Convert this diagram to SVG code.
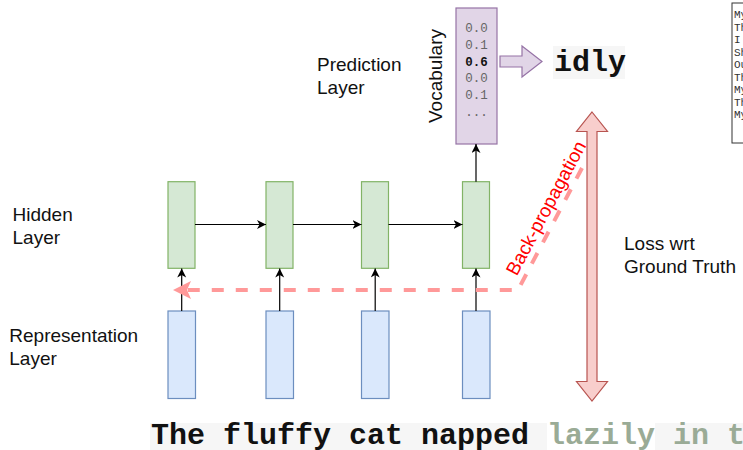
<svg xmlns="http://www.w3.org/2000/svg" width="743" height="450" viewBox="0 0 743 450">
  <style>
    .label { font-family: "Liberation Sans", Arial, sans-serif; font-size: 19px; fill: #111; }
    .mono { font-family: "Liberation Mono", "Courier New", monospace; }
    .hidden { fill: #d5e8d4; stroke: #82b366; stroke-width: 1.2; }
    .rep { fill: #dae8fc; stroke: #6c8ebf; stroke-width: 1.2; }
    .edge { fill: none; stroke: #000; stroke-width: 1.2; }
    .vocab-val { font-size: 12.5px; fill: #666; text-anchor: middle; }
  </style>
  <defs>
    <marker id="arrow" markerUnits="userSpaceOnUse" markerWidth="10" markerHeight="10" refX="9" refY="4.5" orient="auto">
      <path d="M0,0 L9,4.5 L0,9 L2.5,4.5 z" fill="#000"/>
    </marker>
    <marker id="arrow-back" markerUnits="userSpaceOnUse" markerWidth="20" markerHeight="20" refX="4" refY="9" orient="auto">
      <path d="M0,0 L18,9 L0,18 L4,9 z" fill="#ff9999"/>
    </marker>
  </defs>

  <!-- side panel of sentences, cut at the right edge -->
  <g id="sentence-list">
    <rect x="732" y="3" width="40" height="140" fill="#fff" stroke="#333" stroke-width="1"/>
    <g class="mono" font-size="11" fill="#333">
      <text x="734" y="18">My</text>
      <text x="734" y="30.5">Th</text>
      <text x="734" y="43">I</text>
      <text x="734" y="55.5">Sh</text>
      <text x="734" y="68">Ou</text>
      <text x="734" y="80.5">Th</text>
      <text x="734" y="93">My</text>
      <text x="734" y="105.5">Th</text>
      <text x="734" y="118">My</text>
    </g>
  </g>

  <!-- layer captions -->
  <g id="caption-prediction">
    <text class="label" x="317" y="71">Prediction</text>
    <text class="label" x="317" y="94">Layer</text>
  </g>
  <g id="caption-hidden">
    <text class="label" x="12.5" y="220.7">Hidden</text>
    <text class="label" x="12.5" y="243.7">Layer</text>
  </g>
  <g id="caption-representation">
    <text class="label" x="9.3" y="341.7">Representation</text>
    <text class="label" x="9.3" y="365">Layer</text>
  </g>
  <g id="caption-loss">
    <text class="label" x="624" y="250">Loss wrt</text>
    <text class="label" x="624" y="273">Ground Truth</text>
  </g>

  <!-- vocabulary distribution -->
  <g id="vocabulary">
    <rect x="456" y="8" width="41" height="136" fill="#e1d5e7" stroke="#9673a6" stroke-width="1.2"/>
    <text class="label" transform="translate(442,76) rotate(-90)" text-anchor="middle">Vocabulary</text>
    <g class="mono">
      <text class="vocab-val" x="476.5" y="32.3">0.0</text>
      <text class="vocab-val" x="476.5" y="49">0.1</text>
      <text class="vocab-val" x="476.5" y="65.7" font-weight="bold" style="fill:#111">0.6</text>
      <text class="vocab-val" x="476.5" y="82.3">0.0</text>
      <text class="vocab-val" x="476.5" y="99">0.1</text>
      <text class="vocab-val" x="476.5" y="115.7">...</text>
    </g>
  </g>

  <!-- chosen word -->
  <g id="prediction-arrow">
    <polygon points="500,56 522,56 522,46 542,61.5 522,77 522,67 500,67" fill="#e1d5e7" stroke="#9673a6" stroke-width="1.2"/>
  </g>
  <g id="predicted-word">
    <rect x="553" y="46" width="72" height="33" fill="#f6f6f6"/>
    <text class="mono" x="554" y="71" font-size="30" font-weight="bold" fill="#111">idly</text>
  </g>

  <!-- hidden layer cells -->
  <g id="hidden-1"><rect class="hidden" x="168" y="181.7" width="27" height="86.6"/></g>
  <g id="hidden-2"><rect class="hidden" x="266" y="181.7" width="27" height="86.6"/></g>
  <g id="hidden-3"><rect class="hidden" x="361.5" y="181.7" width="27" height="86.6"/></g>
  <g id="hidden-4"><rect class="hidden" x="462.5" y="181.7" width="27" height="86.6"/></g>

  <!-- representation layer cells -->
  <g id="rep-1"><rect class="rep" x="168" y="311" width="27.5" height="87.5"/></g>
  <g id="rep-2"><rect class="rep" x="266" y="311" width="27.5" height="87.5"/></g>
  <g id="rep-3"><rect class="rep" x="361.5" y="311" width="27.5" height="87.5"/></g>
  <g id="rep-4"><rect class="rep" x="462.5" y="311" width="27.5" height="87.5"/></g>

  <!-- loss arrow -->
  <g id="loss-arrow">
    <polygon points="592,112 607.5,131.5 597,131.5 597,381.5 607.5,381.5 592,401 576.5,381.5 587,381.5 587,131.5 576.5,131.5" fill="#f8cecc" stroke="#b85450" stroke-width="1.2"/>
  </g>

  <!-- connectors -->
  <g id="connectors">
    <path class="edge" d="M195,224.5 H266" marker-end="url(#arrow)"/>
    <path class="edge" d="M293,224.5 H361.5" marker-end="url(#arrow)"/>
    <path class="edge" d="M388.5,224.5 H462.5" marker-end="url(#arrow)"/>
    <path class="edge" d="M181.7,311 V268.5" marker-end="url(#arrow)"/>
    <path class="edge" d="M279.7,311 V268.5" marker-end="url(#arrow)"/>
    <path class="edge" d="M375.2,311 V268.5" marker-end="url(#arrow)"/>
    <path class="edge" d="M476,311 V268.5" marker-end="url(#arrow)"/>
    <path class="edge" d="M476,181.7 V144" marker-end="url(#arrow)"/>
    <path d="M582,168 L518,290 L187,290" fill="none" stroke="#ff9999" stroke-width="4" stroke-dasharray="12 12" marker-end="url(#arrow-back)"/>
  </g>

  <g id="backprop-label">
    <text transform="translate(546,208) rotate(-62)" x="0" y="6.5" text-anchor="middle" font-family="Liberation Sans, Arial, sans-serif" font-size="19" fill="#ff0000">Back-propagation</text>
  </g>

  <!-- input sentence -->
  <g id="sentence">
    <rect x="150" y="423" width="397" height="27" fill="#f6f6f6"/>
    <rect x="655" y="423" width="88" height="27" fill="#f6f6f6"/>
    <text class="mono" x="151" y="444" font-size="30" font-weight="bold" xml:space="preserve"><tspan fill="#111">The fluffy cat napped </tspan><tspan fill="#9aab96">lazily in t</tspan></text>
  </g>
</svg>
